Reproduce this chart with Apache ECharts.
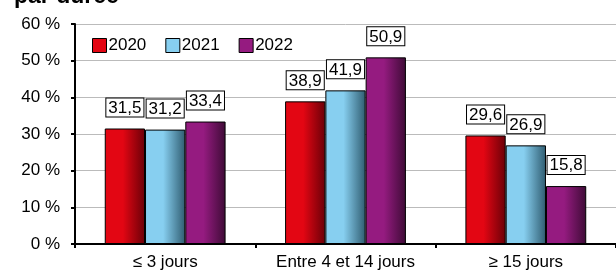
<!DOCTYPE html>
<html lang="fr">
<head>
    <meta charset="utf-8"/>
    <title>Répartition par durée</title>
    <script src="https://cdn.jsdelivr.net/npm/echarts@6/dist/echarts.min.js"></script>
    <style>
        html, body { margin: 0; padding: 0; background: #fff; }
        #main { width: 616px; height: 271px; }
    </style>
</head>
<body>
<div id="main"></div>
<script>
    var categories = ['\u2264 3 jours', 'Entre 4 et 14 jours', '\u2265 15 jours'];
    var years = ['2020', '2021', '2022'];
    var values2020 = [31.5, 38.9, 29.6];
    var values2021 = [31.2, 41.9, 26.9];
    var values2022 = [33.4, 50.9, 15.8];
    var yTicks = [0, 10, 20, 30, 40, 50, 60];

    var baseColors = ['#e30613', '#87cff0', '#951b80'];
    var darkColors = ['#6a0008', '#2f5c70', '#3e0b36'];
    var font = '"Liberation Sans", Arial, Helvetica, sans-serif';

    function grad(i) {
        return new echarts.graphic.LinearGradient(0, 0, 1, 0, [
            {offset: 0, color: baseColors[i]},
            {offset: 0.45, color: baseColors[i]},
            {offset: 1, color: darkColors[i]}
        ]);
    }

    function makeSeries(i, data) {
        return {
            name: years[i],
            type: 'bar',
            data: data,
            barGap: '0%',
            barCategoryGap: '33%',
            itemStyle: {color: grad(i), borderColor: '#000', borderWidth: 1},
            label: {
                show: true,
                position: 'top',
                distance: 12,
                formatter: function (p) { return String(p.value).replace('.', ','); },
                color: '#000',
                fontFamily: font,
                fontSize: 17,
                lineHeight: 17,
                backgroundColor: '#fff',
                borderColor: '#000',
                borderWidth: 1,
                padding: [1, 2, 0, 2]
            }
        };
    }

    var myChart = echarts.init(document.getElementById('main'));
    var option = {
        animation: false,
        title: {
            text: 'par durée',
            left: 14,
            top: -15,
            padding: 0,
            textStyle: {fontFamily: font, fontSize: 23, fontWeight: 'bold', color: '#000'}
        },
        legend: {
            left: 92,
            top: 37,
            padding: 0,
            itemWidth: 14,
            itemHeight: 14,
            itemGap: 19,
            icon: 'rect',
            textStyle: {fontFamily: font, fontSize: 17, color: '#000', padding: [0, 0, 0, -3]},
            data: years.map(function (y, i) {
                return {name: y, itemStyle: {color: baseColors[i], borderColor: '#000', borderWidth: 1}};
            })
        },
        grid: {left: 75, top: 24, width: 552, height: 220, containLabel: false},
        xAxis: {
            type: 'category',
            data: categories,
            axisLine: {lineStyle: {color: '#000', width: 2}},
            axisTick: {show: true, length: 4, lineStyle: {color: '#000', width: 2}},
            axisLabel: {interval: 0, fontFamily: font, fontSize: 17, color: '#000', margin: 10}
        },
        yAxis: {
            type: 'value',
            min: yTicks[0],
            max: yTicks[yTicks.length - 1],
            interval: 10,
            axisLine: {show: true, lineStyle: {color: '#000', width: 2}},
            axisTick: {show: true, length: 4, lineStyle: {color: '#000', width: 2}},
            axisLabel: {fontFamily: font, fontSize: 17, color: '#000', margin: 15, formatter: '{value} %'},
            splitLine: {lineStyle: {color: '#bbbbbb', width: 1}}
        },
        series: [
            makeSeries(0, values2020),
            makeSeries(1, values2021),
            makeSeries(2, values2022)
        ]
    };
    myChart.setOption(option);
</script>
</body>
</html>
